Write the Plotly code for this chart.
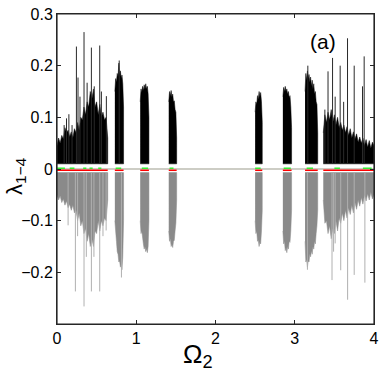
import plotly.graph_objects as go

# Lyapunov spectrum vs Omega_2.
# Each chaotic window: Omega_2 samples, upper edge of lambda_1 (black), lower edge of lambda_4 (grey)
om_a = [0.00, 0.02, 0.04, 0.06, 0.08, 0.10, 0.12, 0.14, 0.16, 0.18, 0.20, 0.22, 0.24, 0.26, 0.28, 0.30,
        0.32, 0.34, 0.36, 0.38, 0.40, 0.42, 0.44, 0.46, 0.48, 0.50, 0.52, 0.54, 0.56, 0.58, 0.60, 0.62, 0.64]
top_a = [0.045, 0.06, 0.05, 0.065, 0.058, 0.08, 0.07, 0.075, 0.062, 0.072, 0.06, 0.078, 0.07, 0.09, 0.075, 0.1,
         0.095, 0.12, 0.105, 0.13, 0.12, 0.15, 0.135, 0.155, 0.12, 0.13, 0.105, 0.125, 0.1, 0.11, 0.095, 0.1, 0.06]
bot_a = [-0.05, -0.06, -0.052, -0.065, -0.058, -0.07, -0.062, -0.075, -0.068, -0.08, -0.07, -0.085, -0.08, -0.1,
         -0.085, -0.11, -0.1, -0.125, -0.115, -0.14, -0.125, -0.15, -0.135, -0.15, -0.12, -0.125, -0.1, -0.12,
         -0.1, -0.11, -0.095, -0.1, -0.06]

om_b = [0.73, 0.74, 0.75, 0.76, 0.77, 0.78, 0.79, 0.80, 0.81, 0.82, 0.83, 0.84]
top_b = [0.15, 0.175, 0.168, 0.185, 0.178, 0.205, 0.182, 0.19, 0.175, 0.182, 0.165, 0.12]
bot_b = [-0.1, -0.13, -0.14, -0.16, -0.165, -0.18, -0.178, -0.19, -0.185, -0.195, -0.17, -0.1]

om_c = [1.05, 1.06, 1.07, 1.08, 1.09, 1.10, 1.11, 1.12, 1.13, 1.14, 1.15, 1.16]
top_c = [0.13, 0.155, 0.148, 0.16, 0.152, 0.163, 0.155, 0.165, 0.155, 0.16, 0.145, 0.1]
bot_c = [-0.1, -0.125, -0.12, -0.14, -0.145, -0.155, -0.15, -0.16, -0.155, -0.162, -0.15, -0.1]

om_d = [1.41, 1.42, 1.43, 1.44, 1.45, 1.46, 1.47, 1.48, 1.49, 1.50, 1.51]
top_d = [0.13, 0.15, 0.142, 0.152, 0.14, 0.145, 0.13, 0.132, 0.115, 0.11, 0.06]
bot_d = [-0.12, -0.14, -0.135, -0.15, -0.145, -0.152, -0.14, -0.138, -0.12, -0.105, -0.06]

om_e = [2.50, 2.51, 2.52, 2.53, 2.54, 2.55, 2.56, 2.57, 2.58, 2.59]
top_e = [0.11, 0.13, 0.125, 0.142, 0.135, 0.15, 0.14, 0.148, 0.13, 0.09]
bot_e = [-0.1, -0.125, -0.12, -0.14, -0.138, -0.15, -0.142, -0.145, -0.12, -0.08]

om_f = [2.85, 2.86, 2.87, 2.88, 2.89, 2.90, 2.91, 2.92, 2.93, 2.94, 2.95, 2.96]
top_f = [0.14, 0.158, 0.15, 0.16, 0.15, 0.155, 0.145, 0.15, 0.138, 0.142, 0.12, 0.08]
bot_f = [-0.12, -0.145, -0.14, -0.158, -0.152, -0.162, -0.15, -0.155, -0.14, -0.142, -0.12, -0.08]

om_g = [3.13, 3.14, 3.15, 3.16, 3.17, 3.18, 3.19, 3.20, 3.21, 3.22, 3.23, 3.24, 3.25, 3.26, 3.27, 3.28, 3.29]
top_g = [0.15, 0.185, 0.172, 0.19, 0.175, 0.183, 0.168, 0.178, 0.16, 0.172, 0.155, 0.165, 0.145, 0.15, 0.13,
         0.125, 0.07]
bot_g = [-0.14, -0.18, -0.175, -0.19, -0.178, -0.18, -0.165, -0.17, -0.158, -0.165, -0.15, -0.155, -0.14,
         -0.145, -0.125, -0.11, -0.08]

om_h = [3.36, 3.38, 3.40, 3.42, 3.44, 3.46, 3.48, 3.50, 3.52, 3.54, 3.56, 3.58, 3.60, 3.62, 3.64, 3.66,
        3.68, 3.70, 3.72, 3.74, 3.76, 3.78, 3.80, 3.82, 3.84, 3.86, 3.88, 3.90, 3.92, 3.94, 3.96, 3.98, 4.00]
top_h = [0.07, 0.105, 0.09, 0.11, 0.095, 0.115, 0.09, 0.105, 0.085, 0.1, 0.08, 0.09, 0.075, 0.085, 0.07, 0.082,
         0.065, 0.078, 0.06, 0.072, 0.058, 0.068, 0.052, 0.062, 0.05, 0.06, 0.045, 0.057, 0.042, 0.055, 0.04,
         0.052, 0.045]
bot_h = [-0.06, -0.105, -0.1, -0.125, -0.11, -0.135, -0.115, -0.125, -0.1, -0.12, -0.095, -0.105, -0.085,
         -0.1, -0.08, -0.095, -0.075, -0.088, -0.07, -0.085, -0.065, -0.078, -0.06, -0.072, -0.055, -0.068,
         -0.05, -0.062, -0.048, -0.06, -0.045, -0.058, -0.05]

# isolated spikes of lambda_1 and lambda_4
spike_om = [0.09, 0.12, 0.15, 0.19, 0.245, 0.265, 0.29, 0.341, 0.38, 0.434, 0.47, 0.539, 0.56, 0.623,
            0.785, 3.165, 3.38, 3.42, 3.477, 3.51, 3.573, 3.617, 3.666, 3.75, 3.855, 3.876]
spike_top = [0.085, 0.098, 0.106, 0.085, 0.237, 0.177, 0.14, 0.265, 0.167, 0.235, 0.16, 0.239, 0.15, 0.141,
             0.21, 0.2, 0.115, 0.189, 0.215, 0.14, 0.2, 0.13, 0.253, 0.2, 0.16, 0.218]
dip_om = [0.14, 0.232, 0.26, 0.341, 0.37, 0.434, 0.466, 0.539, 0.58, 0.62, 0.813, 3.16,
          3.47, 3.49, 3.51, 3.58, 3.667, 3.75, 3.885]
dip_bot = [-0.109, -0.237, -0.13, -0.266, -0.17, -0.237, -0.17, -0.237, -0.13, -0.119, -0.21, -0.195,
           -0.215, -0.16, -0.144, -0.196, -0.253, -0.205, -0.22]

lam1_floor = 0.01
lam4_ceil = -0.007
lam3_level = -0.0025
lam2_level = 0.0015
green_spans = [(0.0, 0.1), (0.16, 0.22), (0.33, 0.37), (0.41, 0.45), (0.52, 0.56), (0.74, 0.81),
               (1.07, 1.15), (1.42, 1.47), (2.5, 2.57), (2.86, 2.95), (3.15, 3.23), (3.5, 3.57), (3.86, 3.97)]

windows_om = [om_a, om_b, om_c, om_d, om_e, om_f, om_g, om_h]
windows_top = [top_a, top_b, top_c, top_d, top_e, top_f, top_g, top_h]
windows_bot = [bot_a, bot_b, bot_c, bot_d, bot_e, bot_f, bot_g, bot_h]


def band(oms, edges, base):
    xs, ys = [], []
    for om, e in zip(oms, edges):
        xs += list(om) + list(om[::-1]) + [None]
        ys += list(e) + [base] * len(om) + [None]
    return xs, ys


def sticks(xs_in, ys_in, base):
    xs, ys = [], []
    for x, y in zip(xs_in, ys_in):
        xs += [x, x, None]
        ys += [base, y, None]
    return xs, ys


fig = go.Figure()

gx, gy = band(windows_om, windows_bot, lam4_ceil)
fig.add_trace(go.Scatter(x=gx, y=gy, fill="toself", fillcolor="#8a8a8a", mode="lines",
                         line=dict(color="#8a8a8a", width=0.5), hoverinfo="skip"))
dx, dy = sticks(dip_om, dip_bot, lam4_ceil)
fig.add_trace(go.Scatter(x=dx, y=dy, mode="lines", line=dict(color="#b0b0b0", width=1), hoverinfo="skip"))

bx, by = band(windows_om, windows_top, lam1_floor)
fig.add_trace(go.Scatter(x=bx, y=by, fill="toself", fillcolor="#000000", mode="lines",
                         line=dict(color="#000000", width=0.5), hoverinfo="skip"))
sx, sy = sticks(spike_om, spike_top, lam1_floor)
fig.add_trace(go.Scatter(x=sx, y=sy, mode="lines", line=dict(color="#2a2a2a", width=1), hoverinfo="skip"))

# zero exponents
fig.add_trace(go.Scatter(x=[0, 4], y=[0, 0], mode="lines", line=dict(color="#9c9c8c", width=1.2)))
rx, ry = [], []
for om in windows_om:
    rx += [om[0], om[-1], None]
    ry += [lam3_level, lam3_level, None]
fig.add_trace(go.Scatter(x=rx, y=ry, mode="lines", line=dict(color="#ff0000", width=1.5)))
grx, gry = [], []
for a, b in green_spans:
    grx += [a, b, None]
    gry += [lam2_level, lam2_level, None]
fig.add_trace(go.Scatter(x=grx, y=gry, mode="lines", line=dict(color="#33ee33", width=1.5)))

axis_style = dict(
    showline=True, linecolor="#262626", linewidth=1, mirror="ticks", automargin=False,
    ticks="inside", ticklen=4, tickcolor="#262626", ticklabeloverflow="allow",
    showgrid=False, zeroline=False, tickfont=dict(size=16, color="black"),
)

fig.update_layout(
    width=382,
    height=382,
    margin=dict(l=57, r=8, t=14, b=58),
    paper_bgcolor="white",
    plot_bgcolor="white",
    showlegend=False,
    font=dict(family="Liberation Sans, Arial", color="black"),
    xaxis=dict(range=[0, 4], tickvals=[0, 1, 2, 3, 4], **axis_style),
    yaxis=dict(range=[-0.3, 0.3], tickvals=[-0.2, -0.1, 0, 0.1, 0.2, 0.3],
               ticktext=["\u22120.2", "\u22120.1", "0", "0.1", "0.2", "0.3"], **axis_style),
    shapes=[dict(type="rect", xref="paper", yref="paper", x0=0, x1=1, y0=0, y1=1,
                 line=dict(color="#262626", width=1.2), layer="above")],
    annotations=[
        dict(text="(a)", x=0.839, y=0.91, xref="paper", yref="paper", showarrow=False,
             font=dict(size=21), xanchor="center", yanchor="middle"),
        dict(text="\u03bb<sub>1\u22124</sub>", x=-0.13, y=0.477, xref="paper", yref="paper",
             showarrow=False, textangle=-90, font=dict(size=22), xanchor="center", yanchor="middle"),
        dict(text="\u03a9<sub>2</sub>", x=0.445, y=-0.103, xref="paper", yref="paper",
             showarrow=False, font=dict(size=26), xanchor="center", yanchor="middle"),
    ],
)

# drop the browser's default body margin so the figure sits at the page corner
fig.write_html("out.html", config={"displayModeBar": False},
               post_script="document.body.style.margin = '0';")
